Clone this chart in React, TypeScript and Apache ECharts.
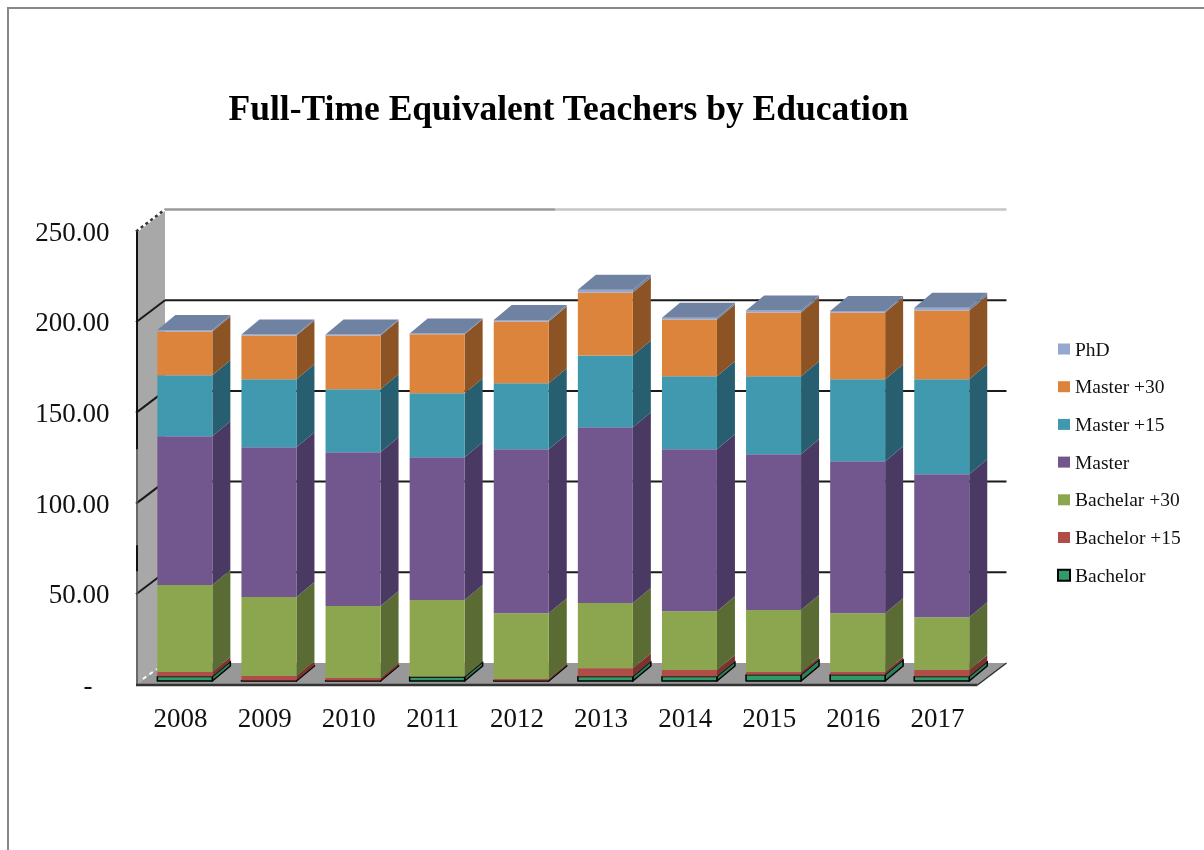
import React, { useEffect, useRef } from "react";
import * as echarts from "echarts";

const years = ["2008", "2009", "2010", "2011", "2012", "2013", "2014", "2015", "2016", "2017"];
const bachelor = [2.5, 0.3, 0.3, 2.2, 0.3, 2.5, 2.5, 3.5, 3.5, 2.5];
const bachelor15 = [2.5, 2.5, 1.3, 0.3, 0.8, 4.5, 3.5, 1.5, 1.5, 3.5];
const bachelar30 = [47.9, 43.5, 39.7, 42.1, 36.3, 36, 32.5, 34.1, 32.4, 29.2];
const master = [82, 82.6, 84.8, 78.7, 90.4, 96.9, 89.3, 85.9, 83.7, 78.8];
const master15 = [33.6, 37.4, 34.7, 35.3, 36.3, 39.6, 40.2, 43, 45.2, 52.3];
const master30 = [24.2, 24.2, 29.7, 32.5, 34.1, 34.7, 31.3, 35.2, 36.9, 38];
const phd = [0.8, 0.5, 0.5, 0.5, 0.8, 1.5, 1, 1, 0.8, 1.5];
const legendOrder = ["PhD", "Master +30", "Master +15", "Master", "Bachelar +30", "Bachelor +15", "Bachelor"];

const SERIF = "'Liberation Serif', 'Times New Roman', serif";
const GRID = { left: 138.5, top: 231.5, width: 841, height: 453.5 };
const AXIS_X = 136;
const WALL_DX = 29;
const WALL_DY = 22;
const BAR_W = 55;
const BAR_DX = 4.3;
const BAR_DY = 4;
const DEPTH_X = 18;
const DEPTH_Y = 15;

const layers = [
  { name: "Bachelor", values: bachelor, front: "#2e9b68", side: "#2a8059", stroke: "#000000" },
  { name: "Bachelor +15", values: bachelor15, front: "#b04d48", side: "#7a3430" },
  { name: "Bachelar +30", values: bachelar30, front: "#8ba64f", side: "#5a6b33" },
  { name: "Master", values: master, front: "#72578f", side: "#4a3a63" },
  { name: "Master +15", values: master15, front: "#4099ae", side: "#275f70" },
  { name: "Master +30", values: master30, front: "#dc843b", side: "#8c5424" },
  { name: "PhD", values: phd, front: "#95a8d0", side: "#6f82a2", top: "#6f82a2" },
];

function poly(points: number[][], fill: string, stroke?: string, lineWidth?: number) {
  return {
    type: "polygon",
    shape: { points },
    style: { fill, stroke: stroke || "none", lineWidth: lineWidth || 0, lineJoin: "round" },
  };
}

function line(x1: number, y1: number, x2: number, y2: number, stroke: string, lineWidth: number, lineDash?: number[]) {
  return {
    type: "line",
    shape: { x1, y1, x2, y2 },
    style: { stroke, lineWidth, lineDash: lineDash || undefined },
  };
}

function renderChrome(_: any, api: any) {
  const y = (v: number) => api.coord([0, v])[1];
  const y0 = y(0);
  const yTop = y(250);
  const right = GRID.left + GRID.width - 2;
  const children: any[] = [
    poly(
      [
        [AXIS_X, y0],
        [AXIS_X + WALL_DX, y0 - WALL_DY],
        [AXIS_X + WALL_DX, yTop - WALL_DY],
        [AXIS_X, yTop],
      ],
      "#a8a8a8"
    ),
    poly(
      [
        [AXIS_X, y0],
        [AXIS_X + WALL_DX, y0 - WALL_DY],
        [right + WALL_DX, y0 - WALL_DY],
        [right, y0],
      ],
      "#989898"
    ),
  ];
  [50, 100, 150, 200].forEach((v) => {
    const p = y(v);
    children.push(line(AXIS_X, p, AXIS_X + WALL_DX, p - WALL_DY, "#1a1a1a", 2));
    children.push(line(AXIS_X + WALL_DX, p - WALL_DY, right + WALL_DX, p - WALL_DY, "#1a1a1a", 2));
  });
  const back = yTop - WALL_DY;
  children.push(line(AXIS_X + WALL_DX, back, 555, back, "#9a9a9a", 2.5));
  children.push(line(555, back, right + WALL_DX, back, "#c6c6c6", 2.5));
  children.push(line(AXIS_X, yTop, AXIS_X + WALL_DX, back, "#ffffff", 2.5));
  children.push(line(AXIS_X, yTop, AXIS_X + WALL_DX, back, "#333333", 2.5, [3, 3]));
  children.push(line(AXIS_X + 7, y0 - 6, AXIS_X + 21, y0 - 16, "#ffffff", 2, [4, 4]));
  children.push(line(AXIS_X + 1, yTop, AXIS_X + 1, y0, "#555555", 1.5));
  children.push(line(AXIS_X + 1, yTop, AXIS_X + 1, y(130), "#111111", 2));
  children.push(line(AXIS_X + 1, y(130) + 96, AXIS_X + 1, y(130) + 122, "#111111", 2));
  children.push(line(AXIS_X, y0, right, y0, "#333333", 2.5));
  children.push(line(right, y0, right + WALL_DX, y0 - WALL_DY, "#333333", 1.5));
  return { type: "group", children };
}

function makeBarRenderer(layer: any) {
  return (_: any, api: any) => {
    const a = api.coord([api.value(0), api.value(1)]);
    const b = api.coord([api.value(0), api.value(2)]);
    const x0 = a[0] + BAR_DX - BAR_W / 2;
    const x1 = x0 + BAR_W;
    const yb = a[1] - BAR_DY;
    const yt = b[1] - BAR_DY;
    const stroke = layer.stroke;
    const lw = stroke ? 1.5 : 0;
    const children: any[] = [
      poly(
        [
          [x1, yt],
          [x1 + DEPTH_X, yt - DEPTH_Y],
          [x1 + DEPTH_X, yb - DEPTH_Y],
          [x1, yb],
        ],
        layer.side,
        stroke,
        lw
      ),
      poly(
        [
          [x0, yb],
          [x1, yb],
          [x1, yt],
          [x0, yt],
        ],
        layer.front,
        stroke,
        lw
      ),
    ];
    if (layer.top) {
      children.push(
        poly(
          [
            [x0, yt],
            [x1, yt],
            [x1 + DEPTH_X, yt - DEPTH_Y],
            [x0 + DEPTH_X, yt - DEPTH_Y],
          ],
          layer.top
        )
      );
    }
    return { type: "group", children };
  };
}

function buildBarSeries() {
  const running = years.map(() => 0);
  return layers.map((layer) => {
    const data = years.map((_, i) => {
      const start = running[i];
      running[i] = start + layer.values[i];
      return [i, start, running[i]];
    });
    return {
      type: "custom",
      name: layer.name,
      renderItem: makeBarRenderer(layer),
      encode: { x: 0, y: [1, 2] },
      itemStyle: { color: layer.front },
      data,
      silent: true,
    };
  });
}

export default function App() {
  const ref = useRef<HTMLDivElement>(null);
  useEffect(() => {
    const chart = echarts.init(ref.current!, undefined, { renderer: "svg" });
    chart.setOption({
      animation: false,
      backgroundColor: "#ffffff",
      title: {
        text: "Full-Time Equivalent Teachers by Education",
        left: 568.5,
        top: 90,
        textAlign: "center",
        padding: 0,
        textStyle: { fontFamily: SERIF, fontWeight: "bold", fontSize: 35.5, color: "#000000" },
      },
      legend: {
        orient: "vertical",
        left: 1057,
        top: 339,
        padding: 0,
        itemWidth: 12,
        itemHeight: 11,
        itemGap: 17.7,
        icon: "rect",
        selectedMode: false,
        textStyle: { fontFamily: SERIF, fontSize: 19.5, color: "#111111", padding: [0, 0, 0, 0] },
        data: legendOrder.map((name) =>
          name === "Bachelor"
            ? { name, itemStyle: { borderColor: "#000000", borderWidth: 2 } }
            : { name }
        ),
      },
      grid: { ...GRID, containLabel: false },
      xAxis: {
        type: "category",
        data: years,
        axisLine: { show: false },
        axisTick: { show: false },
        axisLabel: { fontFamily: SERIF, fontSize: 27, color: "#111111", margin: 19 },
      },
      yAxis: {
        type: "value",
        min: 0,
        max: 250,
        interval: 50,
        axisLine: { show: false },
        axisTick: { show: false },
        splitLine: { show: false },
        axisLabel: {
          margin: 29,
          fontFamily: SERIF,
          fontSize: 27,
          color: "#111111",
          formatter: (v: number) => (v === 0 ? "{d|-}" : v.toFixed(2)),
          rich: { d: { fontFamily: SERIF, fontSize: 27, color: "#111111", padding: [0, 17, 0, 0] } },
        },
      },
      graphic: [
        { type: "rect", silent: true, shape: { x: 7, y: 7, width: 1197, height: 2 }, style: { fill: "#888888" } },
        { type: "rect", silent: true, shape: { x: 7, y: 7, width: 2, height: 843 }, style: { fill: "#888888" } },
      ],
      series: [
        {
          type: "custom",
          name: "chrome",
          renderItem: renderChrome,
          encode: { x: 0, y: 1 },
          data: [[0, 0]],
          silent: true,
        },
        ...buildBarSeries(),
      ],
    });
    return () => chart.dispose();
  }, []);
  return (
    <div
      ref={ref}
      style={{ position: "absolute", left: 0, top: 0, width: 1204, height: 850, filter: "blur(0.5px)" }}
    />
  );
}
